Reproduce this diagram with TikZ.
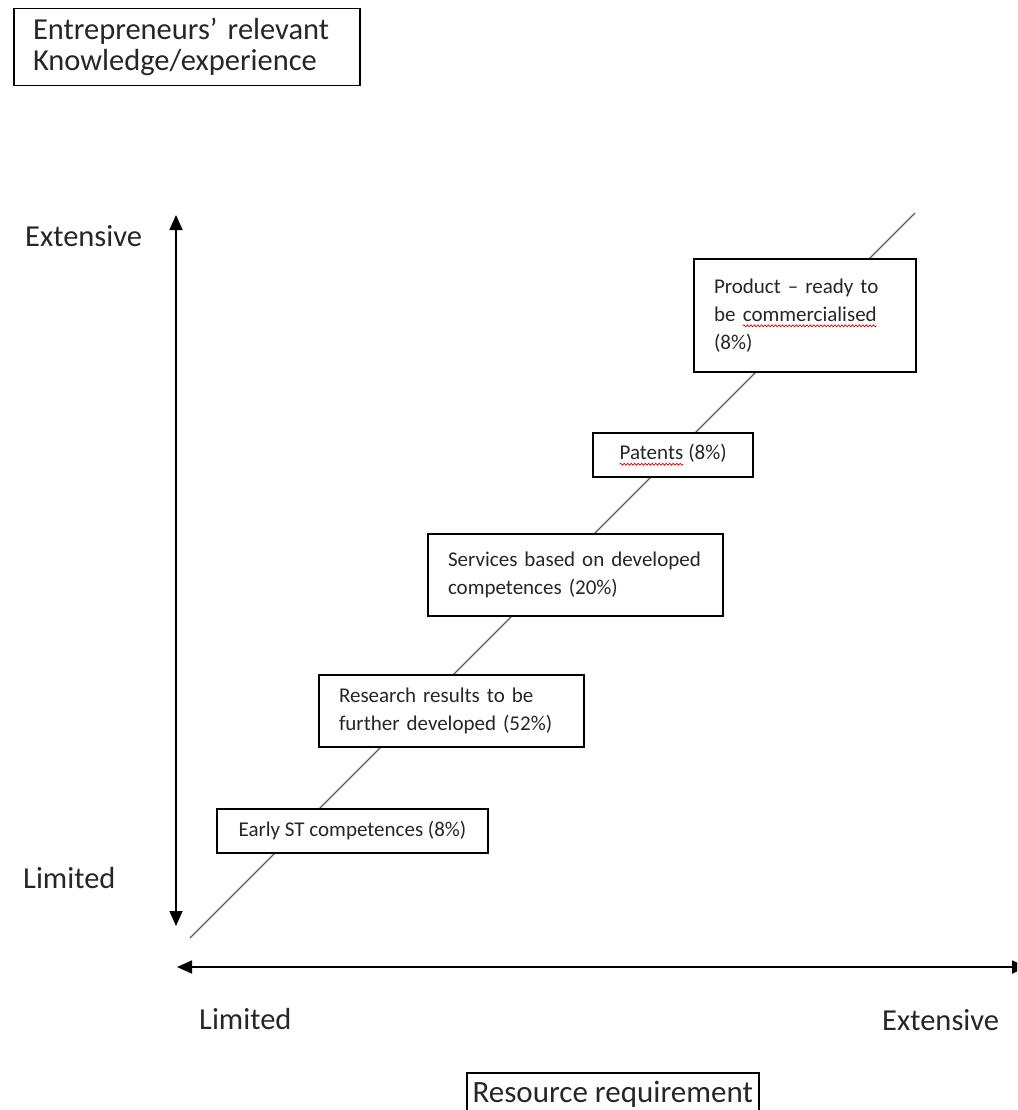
\documentclass[tikz,border=0pt]{standalone}
\usepackage{fontspec}
\setmainfont{Carlito}
\usetikzlibrary{arrows.meta,decorations.pathmorphing}
\newcommand\fbig{\fontsize{30.5pt}{31pt}\selectfont}
\newcommand\fsmall{\fontsize{21pt}{28pt}\selectfont}
\newcommand\squig[1]{\tikz[baseline=(sq.base)]{\node[draw=none,fill=none,inner sep=0pt,outer sep=0pt,
  minimum width=0pt,minimum height=0pt,text width=,text height=,text depth=,align=none,anchor=base](sq) at (0,0) {#1};%
  \draw[red!85!black,line width=0.7pt,decorate,decoration={snake,amplitude=1pt,segment length=3.5pt}] ([yshift=-4.5pt]sq.base west) -- ([yshift=-4.5pt]sq.base east);}}
\begin{document}
\begin{tikzpicture}[x=1pt,y=-1pt,
  box/.style={draw=black,line width=1.5pt,fill=white,inner xsep=20pt,inner ysep=0pt,font=\fsmall,text=black!85},
  mbox/.style={box,align=left},
  lbl/.style={font=\fbig,anchor=base west,inner sep=0pt,text=black!85},
  axis/.style={line width=1.8pt,{Triangle[length=15pt,width=13pt]}-{Triangle[length=15pt,width=13pt]}},
  diag/.style={line width=1.3pt,black!65}]
\useasboundingbox (0,0) rectangle (1017,1110);
\clip (0,0) rectangle (1017,1110);
% title box
\node[draw=black,line width=1.5pt,minimum width=346pt,minimum height=77pt,inner xsep=19pt,inner ysep=0pt,
  text width=308pt,align=left,font=\fbig,text=black!85] (title) at (187,47)
  {Entrepreneurs’ relevant\\Knowledge/experience};
% axes
\coordinate (vt) at (176,215);
\coordinate (vb) at (176,926);
\coordinate (hl) at (177,967);
\coordinate (hr) at (1027,967);
\draw[axis] (vt) -- (vb);
\draw[axis] (hl) -- (hr);
% diagonal
\coordinate (d1) at (190,938);
\coordinate (d2) at (915,213);
\draw[diag] (d1) -- (d2);
% boxes
\node[box,minimum width=271pt,minimum height=44pt] (early) at (352.5,831) {Early ST competences (8\%)};
\node[mbox,minimum width=265pt,minimum height=72pt,text width=225pt] (research) at (451.5,711)
  {Research results to be\\further developed (52\%)};
\node[mbox,minimum width=295pt,minimum height=82pt,text width=255pt] (services) at (575.5,575)
  {Services based on developed\\competences (20\%)};
\node[box,minimum width=160pt,minimum height=44pt] (patents) at (673,455) {\squig{Patents} (8\%)};
\node[mbox,minimum width=222pt,minimum height=113pt,text width=182pt] (product) at (805,315.5)
  {Product – ready to\\be \squig{commercialised}\\(8\%)};
% labels
\node[lbl] (ext1) at (25,246) {Extensive};
\node[lbl] (lim1) at (23,888) {Limited};
\node[lbl] (lim2) at (199,1029) {Limited};
\node[lbl] (ext2) at (882,1030) {Extensive};
% resource requirement
\node[draw=black,line width=1.5pt,anchor=north west,minimum width=292pt,inner xsep=1pt,inner ysep=0pt,
  text height=30pt,text depth=20pt,font=\fontsize{31pt}{31pt}\selectfont,text=black!85] (res) at (466,1072)
  {Resource requirement};
\end{tikzpicture}
\end{document}
